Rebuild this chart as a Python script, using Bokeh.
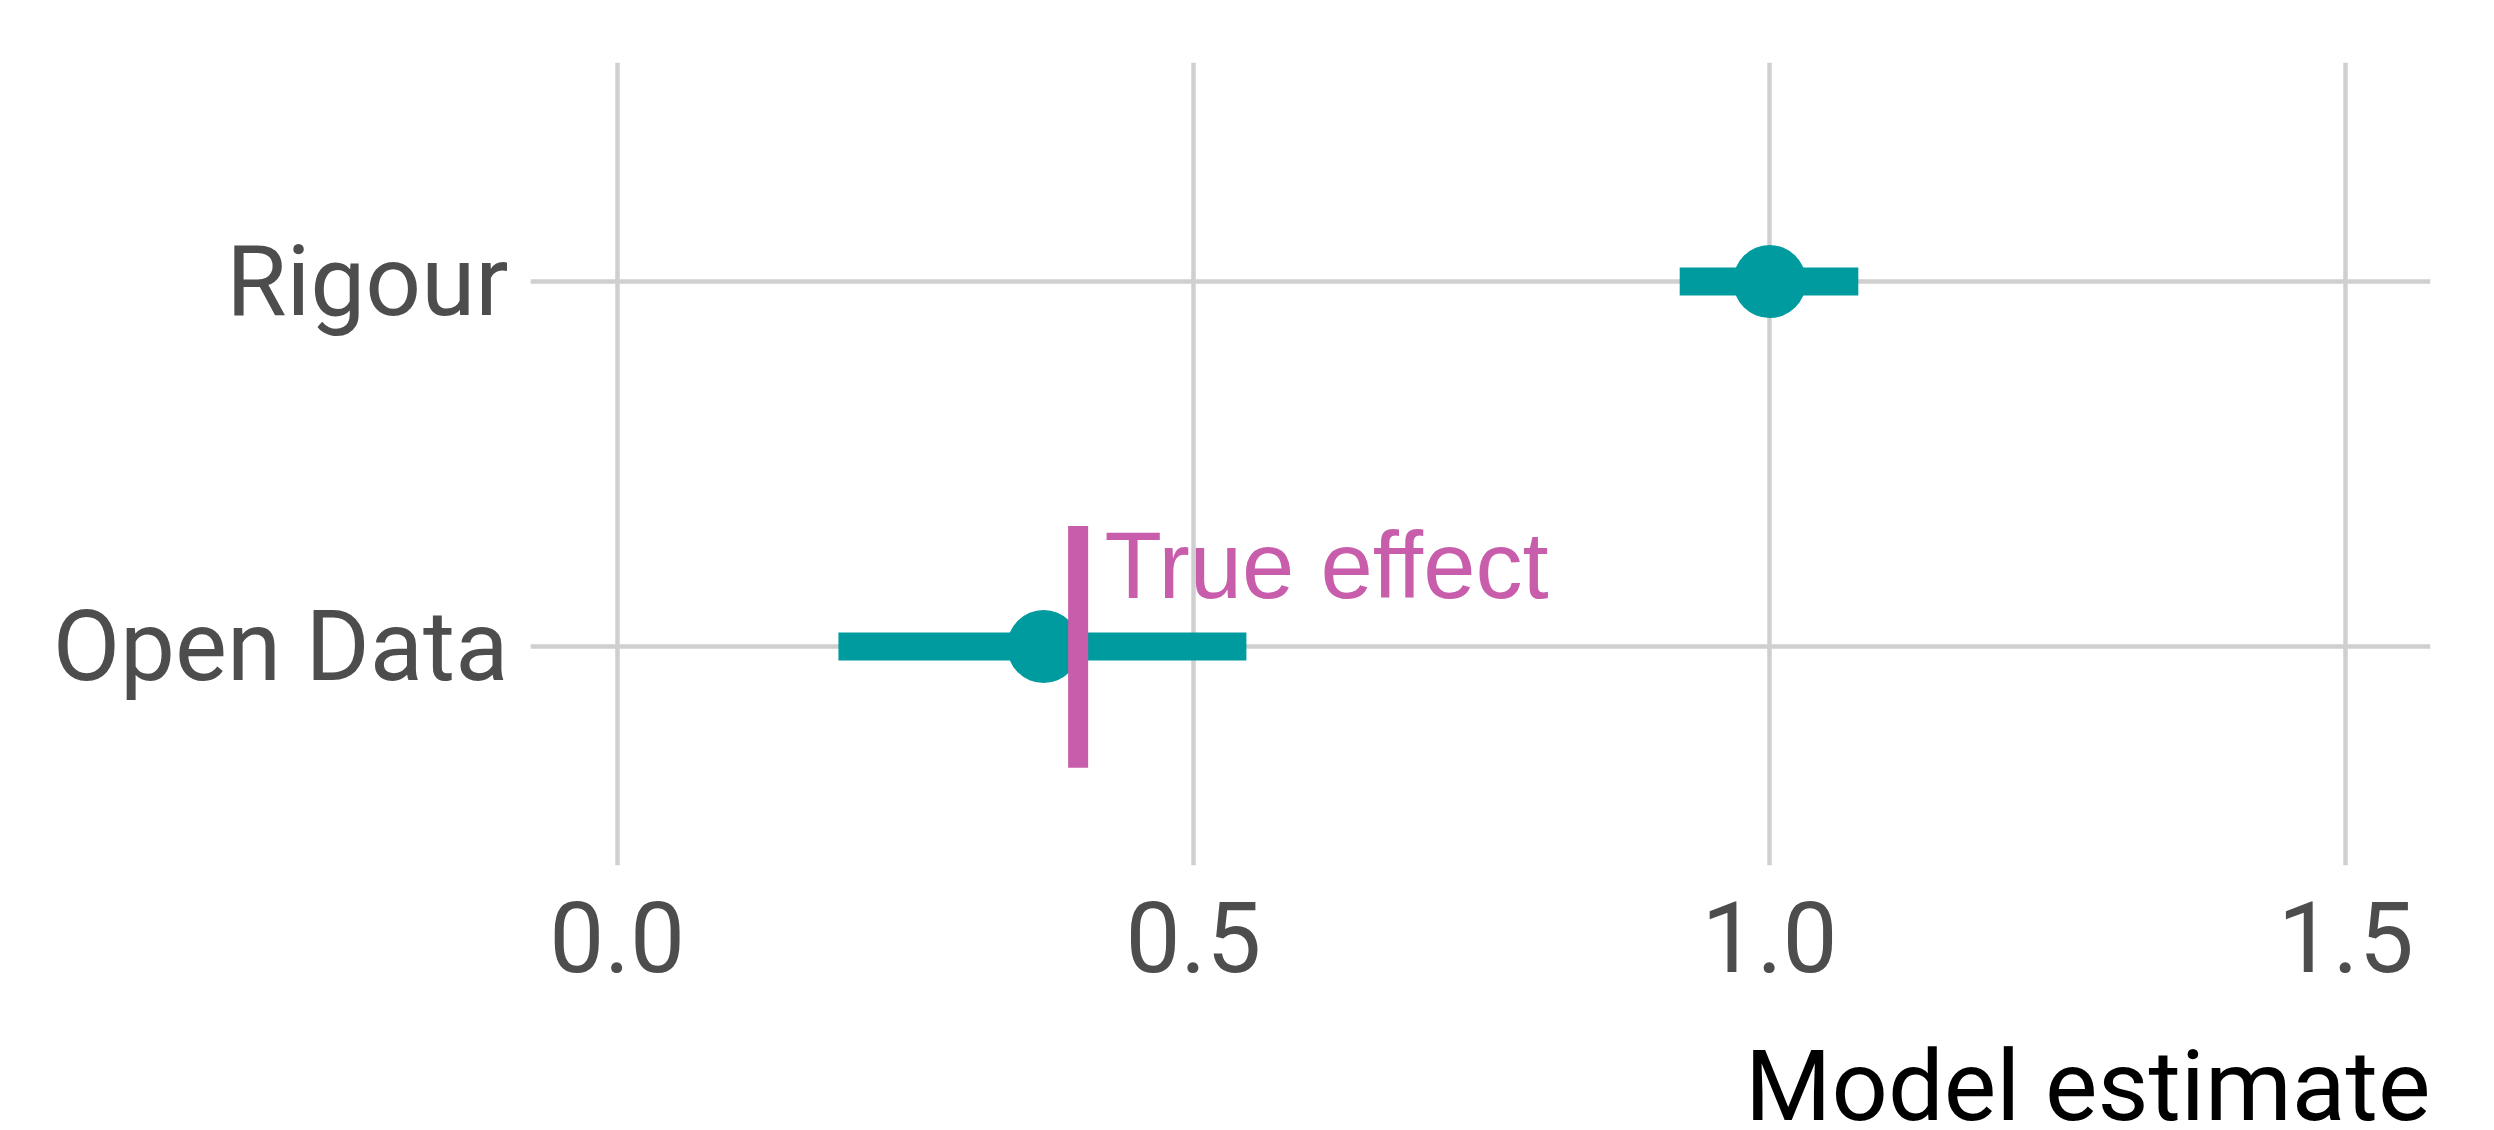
from bokeh.plotting import figure
from bokeh.layouts import column
from bokeh.models import FixedTicker, Range1d
from bokeh.core.properties import value
from bokeh.embed import file_html
from bokeh.resources import INLINE

# ---- data ----
terms = ["Open Data", "Rigour"]
term_pos = [1, 2]
estimate = [0.370, 1.000]
conf_low = [0.192, 0.922]
conf_high = [0.546, 1.077]
true_effect = 0.4
true_label = "True effect"
x_ticks = [0.0, 0.5, 1.0, 1.5]
x_tick_labels = ["0.0", "0.5", "1.0", "1.5"]
x_title = "Model estimate"

TEAL = "#009B9E"
PINK = "#C75DAB"
GRID = "#CFCFCF"
TICK = "#4D4D4D"

W = 2486
H1 = 1040
H2 = 82
XR = Range1d(-0.0752, 1.5735)

p = figure(width=W, height=H1, output_backend="svg", toolbar_location=None,
           x_range=XR, y_range=Range1d(0.4, 2.6),
           min_border_left=530, min_border_right=56, min_border_top=62,
           min_border_bottom=H1 - 62 - 803)
p.outline_line_color = None
p.background_fill_color = "white"
p.border_fill_color = "white"

# grid
p.xgrid.ticker = FixedTicker(ticks=x_ticks)
p.ygrid.ticker = FixedTicker(ticks=term_pos)
for g in (p.xgrid, p.ygrid):
    g.grid_line_color = GRID
    g.grid_line_width = 4.5

# axes
p.xaxis.ticker = FixedTicker(ticks=x_ticks)
p.xaxis.major_label_overrides = {t: l for t, l in zip(x_ticks, x_tick_labels)}
p.yaxis.ticker = FixedTicker(ticks=term_pos)
p.yaxis.major_label_overrides = {t: l for t, l in zip(term_pos, terms)}
for ax in (p.xaxis, p.yaxis):
    ax.axis_line_color = None
    ax.major_tick_line_color = None
    ax.minor_tick_line_color = None
    ax.major_tick_out = 0
    ax.major_tick_in = 0
    ax.major_label_text_font = "Roboto"
    ax.major_label_text_font_size = "98px"
    ax.major_label_text_color = TICK
p.xaxis.major_label_standoff = 35
p.yaxis.major_label_standoff = 22

# error bars and points
p.segment(x0=conf_low, y0=term_pos, x1=conf_high, y1=term_pos,
          line_color=TEAL, line_width=28, line_cap="butt")
p.scatter(x=estimate, y=term_pos, size=73, fill_color=TEAL, line_color=None)

# true effect marker
p.segment(x0=[true_effect], y0=[term_pos[0] - 0.332], x1=[true_effect],
          y1=[term_pos[0] + 0.33], line_color=PINK, line_width=20, line_cap="butt")
p.text(x=[true_effect + 0.0229], y=[term_pos[0] + 0.222], text=[true_label],
       text_font=value("Liberation Sans"), text_font_size="94px",
       text_color=PINK, text_align="left", text_baseline="alphabetic")

# axis title strip (right aligned, cut at the bottom edge like the original)
p2 = figure(width=W, height=H2, output_backend="svg", toolbar_location=None,
            x_range=XR, y_range=Range1d(0, H2),
            x_axis_location=None, y_axis_location=None,
            min_border_left=530, min_border_right=56, min_border_top=0,
            min_border_bottom=0)
p2.outline_line_color = None
p2.xgrid.visible = False
p2.ygrid.visible = False
p2.background_fill_color = "white"
p2.border_fill_color = "white"
p2.text(x=[XR.end], y=[37], text=[x_title], text_font=value("Roboto"),
        text_font_size="99px", text_color="black", text_align="right",
        text_baseline="alphabetic")

layout = column(p, p2, spacing=0)
open("out.html", "w").write(file_html(layout, INLINE))
